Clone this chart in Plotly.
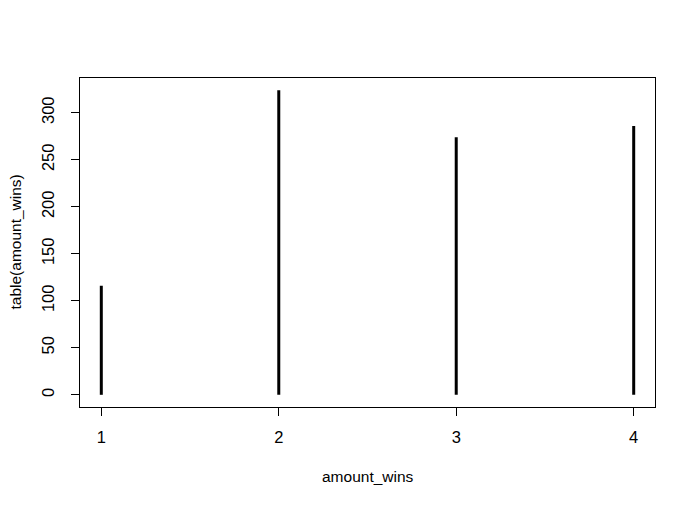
import plotly.graph_objects as go

categories = [1, 2, 3, 4]
counts = [116, 324, 274, 286]
y_ticks = [0, 50, 100, 150, 200, 250, 300]

FONT = "Liberation Sans, Arial, sans-serif"
FS = 15.5
TICK_FS = 16.5

xs, ys = [], []
for c, v in zip(categories, counts):
    xs += [c, c, None]
    ys += [0, v, None]

fig = go.Figure()
fig.add_trace(go.Scatter(x=xs, y=ys, mode="lines",
                         line=dict(color="black", width=3), hoverinfo="skip",
                         showlegend=False))

ymax = max(counts)
xpad = (max(categories) - min(categories)) * 0.04
ypad = ymax * 0.04

# page body has an 8px default margin, so the figure is sized/placed to compensate
fig.update_layout(
    width=686, height=497,
    margin=dict(l=72, r=39, t=70, b=98),
    plot_bgcolor="white", paper_bgcolor="white",
    font=dict(family=FONT, size=FS, color="black"),
    showlegend=False,
    xaxis=dict(range=[min(categories) - xpad, max(categories) + xpad],
               tickvals=categories, ticktext=[str(c) for c in categories],
               tickfont=dict(size=TICK_FS),
               showgrid=False, zeroline=False, showline=True, linecolor="black",
               linewidth=1, mirror=True, ticks="outside", ticklen=8,
               tickcolor="black", ticklabelstandoff=7),
    yaxis=dict(range=[-ypad, ymax + ypad],
               tickvals=y_ticks, ticktext=[str(t) for t in y_ticks],
               tickfont=dict(size=TICK_FS),
               tickangle=-90,
               showgrid=False, zeroline=False, showline=True, linecolor="black",
               linewidth=1, mirror=True, ticks="outside", ticklen=8,
               tickcolor="black", ticklabelstandoff=10),
    annotations=[
        dict(text="amount_wins", xref="paper", yref="paper", x=0.5, y=0,
             yshift=-69, xanchor="center", yanchor="middle", showarrow=False,
             font=dict(family=FONT, size=FS, color="black")),
        dict(text="table(amount_wins)", xref="paper", yref="paper", x=0, y=0.5,
             xshift=-65, xanchor="center", yanchor="middle", showarrow=False,
             textangle=-90, font=dict(family=FONT, size=FS, color="black")),
    ],
)

fig.write_html("out.html")
